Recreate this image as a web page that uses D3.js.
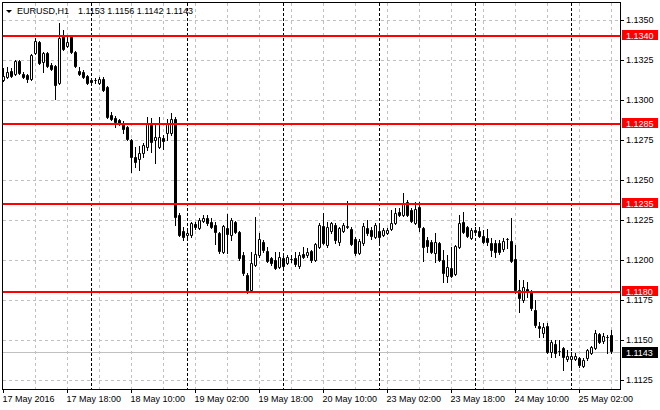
<!DOCTYPE html>
<html><head><meta charset="utf-8">
<script src="https://cdn.jsdelivr.net/npm/d3@7"></script>
<style>
html,body{margin:0;padding:0;background:#fff;}
svg{display:block;font-family:"Liberation Sans",Arial,sans-serif;}
</style></head><body>
<svg id="c" width="660" height="410"></svg>
<script>
const symbol = "EURUSD,H1";
const opens = [1.13127,1.13146,1.13183,1.13165,1.13246,1.13165,1.13158,1.13133,1.13296,1.13365,
1.13240,1.13296,1.13221,1.13215,1.13108,1.13402,1.13340,1.13396,1.13302,1.13183,
1.13177,1.13152,1.13127,1.13127,1.13108,1.13133,1.13083,1.12908,1.12890,1.12877,
1.12858,1.12833,1.12752,1.12646,1.12633,1.12671,1.12708,1.12846,1.12752,1.12708,
1.12765,1.12796,1.12796,1.12883,1.12283,1.12183,1.12158,1.12158,1.12227,1.12202,
1.12246,1.12265,1.12240,1.12221,1.12171,1.12052,1.12202,1.12158,1.12240,1.12177,
1.12033,1.11908,1.11815,1.11971,1.12033,1.12115,1.12058,1.12015,1.12002,1.11958,
1.12015,1.11983,1.12008,1.12015,1.11965,1.12040,1.12033,1.12058,1.12002,1.12083,
1.12215,1.12096,1.12183,1.12221,1.12115,1.12183,1.12208,1.12196,1.12133,1.12046,
1.12108,1.12202,1.12190,1.12146,1.12183,1.12158,1.12171,1.12196,1.12233,1.12302,
1.12283,1.12365,1.12315,1.12233,1.12333,1.12202,1.12127,1.12115,1.12046,1.12108,
1.12002,1.11902,1.11952,1.11915,1.12083,1.12240,1.12208,1.12140,1.12190,1.12183,
1.12152,1.12140,1.12108,1.12108,1.12108,1.12071,1.12133,1.12121,1.12008,1.11815,
1.11752,1.11821,1.11802,1.11690,1.11590,1.11546,1.11590,1.11427,1.11477,1.11433,
1.11452,1.11383,1.11383,1.11383,1.11390,1.11340,1.11390,1.11421,1.11452,1.11540,
1.11496,1.11521,1.1153];
const highs = [1.13202,1.13208,1.13202,1.13252,1.13252,1.13177,1.13165,1.13290,1.13390,1.13371,
1.13302,1.13302,1.13233,1.13221,1.13484,1.13440,1.13396,1.13402,1.13308,1.13208,
1.13190,1.13158,1.13133,1.13140,1.13146,1.13146,1.13090,1.12927,1.12902,1.12883,
1.12871,1.12840,1.12758,1.12708,1.12715,1.12733,1.12896,1.12890,1.12846,1.12896,
1.12783,1.12883,1.12921,1.12896,1.12296,1.12208,1.12196,1.12240,1.12240,1.12265,
1.12283,1.12283,1.12265,1.12240,1.12177,1.12221,1.12290,1.12265,1.12246,1.12183,
1.12052,1.11921,1.12052,1.12271,1.12171,1.12127,1.12083,1.12021,1.12052,1.12052,
1.12033,1.12033,1.12033,1.12052,1.12052,1.12083,1.12077,1.12065,1.12108,1.12233,
1.12296,1.12240,1.12240,1.12233,1.12208,1.12233,1.12371,1.12208,1.12146,1.12133,
1.12233,1.12252,1.12208,1.12233,1.12233,1.12202,1.12202,1.12315,1.12327,1.12327,
1.12421,1.12377,1.12327,1.12365,1.12365,1.12208,1.12146,1.12127,1.12171,1.12115,
1.12065,1.12033,1.12083,1.12096,1.12283,1.12302,1.12215,1.12202,1.12208,1.12208,
1.12190,1.12196,1.12140,1.12127,1.12127,1.12140,1.12140,1.12265,1.12096,1.11877,
1.11877,1.11865,1.11815,1.11752,1.11615,1.11608,1.11608,1.11502,1.11502,1.11502,
1.11458,1.11440,1.11427,1.11421,1.11396,1.11390,1.11446,1.11465,1.11565,1.11546,
1.11546,1.11533,1.1156];
const lows = [1.13121,1.13140,1.13146,1.13158,1.13165,1.13140,1.13115,1.13127,1.13290,1.13227,
1.13177,1.13208,1.13190,1.13008,1.13102,1.13315,1.13333,1.13296,1.13208,1.13158,
1.13140,1.13102,1.13108,1.13108,1.13102,1.13058,1.12890,1.12877,1.12833,1.12846,
1.12796,1.12752,1.12552,1.12583,1.12565,1.12646,1.12690,1.12677,1.12608,1.12702,
1.12696,1.12752,1.12783,1.12221,1.12152,1.12127,1.12146,1.12146,1.12196,1.12196,
1.12240,1.12221,1.12202,1.12102,1.12046,1.12046,1.12046,1.12127,1.12171,1.12002,
1.11908,1.11796,1.11802,1.11965,1.12021,1.12052,1.11990,1.11971,1.11946,1.11952,
1.11958,1.11977,1.11990,1.11965,1.11952,1.12015,1.12021,1.11990,1.11996,1.12077,
1.12102,1.12083,1.12171,1.12108,1.12096,1.12177,1.12202,1.12096,1.12033,1.12040,
1.12096,1.12158,1.12133,1.12140,1.12115,1.12152,1.12165,1.12190,1.12227,1.12277,
1.12277,1.12277,1.12240,1.12227,1.12183,1.11996,1.12052,1.12046,1.11990,1.11996,
1.11865,1.11865,1.11896,1.11908,1.12077,1.12171,1.12146,1.12133,1.12171,1.12146,
1.12108,1.12096,1.12027,1.12021,1.12040,1.12058,1.12077,1.11990,1.11796,1.11677,
1.11740,1.11771,1.11690,1.11583,1.11521,1.11521,1.11421,1.11396,1.11396,1.11408,
1.11315,1.11371,1.11315,1.11377,1.11333,1.11333,1.11377,1.11415,1.11446,1.11483,
1.11483,1.11421,1.1142];
const closes = [1.13152,1.13177,1.13152,1.13246,1.13171,1.13146,1.13133,1.13283,1.13371,1.13233,
1.13296,1.13215,1.13196,1.13096,1.13390,1.13321,1.13365,1.13302,1.13215,1.13165,
1.13146,1.13108,1.13115,1.13125,1.13133,1.13065,1.12896,1.12883,1.12865,1.12852,
1.12821,1.12758,1.12646,1.12615,1.12671,1.12721,1.12858,1.12740,1.12771,1.12771,
1.12746,1.12858,1.12883,1.12271,1.12158,1.12146,1.12171,1.12233,1.12208,1.12252,
1.12265,1.12233,1.12208,1.12177,1.12058,1.12215,1.12165,1.12252,1.12177,1.12015,
1.11921,1.11815,1.11983,1.12040,1.12133,1.12065,1.11996,1.11983,1.11952,1.12021,
1.11965,1.12021,1.12005,1.11977,1.12033,1.12021,1.12052,1.12002,1.12102,1.12221,
1.12108,1.12208,1.12233,1.12127,1.12202,1.12221,1.12215,1.12102,1.12046,1.12121,
1.12215,1.12171,1.12152,1.12221,1.12146,1.12190,1.12190,1.12233,1.12296,1.12283,
1.12358,1.12283,1.12246,1.12321,1.12208,1.12083,1.12090,1.12052,1.12115,1.12002,
1.11921,1.11958,1.11902,1.12090,1.12233,1.12177,1.12152,1.12190,1.12177,1.12152,
1.12115,1.12115,1.12065,1.12052,1.12052,1.12121,1.12130,1.11996,1.11815,1.11765,
1.11833,1.11802,1.11702,1.11596,1.11577,1.11583,1.11427,1.11490,1.11421,1.11430,
1.11396,1.11402,1.11402,1.11402,1.11346,1.11377,1.11440,1.11458,1.11546,1.11490,
1.11527,1.11518,1.1143];
const xTickIdx = [0,16,32,48,64,80,96,112,128,144];
const xTickLabels = ["17 May 2016","17 May 18:00","18 May 10:00","19 May 02:00","19 May 18:00",
  "20 May 10:00","23 May 02:00","23 May 18:00","24 May 10:00","25 May 02:00"];
const yTicks = [1.1350,1.1325,1.1300,1.1275,1.1250,1.1225,1.1200,1.1175,1.1150,1.1125];
const levels = [1.1340,1.1285,1.1235,1.1180];
const daySeps = [22,46,70,94,118,142];
const gridIdx = d3.range(8,153,8);

const n = closes.length;
const last = n-1;
const lastPrice = closes[last];
const svg = d3.select("#c");
const fmt = d3.format(".4f");

const x = d3.scaleLinear().domain([0,152]).range([3,611]);
const y = d3.scaleLinear().domain([1.1350,1.1125]).range([20,380]);

svg.append("defs").append("clipPath").attr("id","plot")
  .append("rect").attr("x",3).attr("y",3).attr("width",617).attr("height",386);

const plot = svg.append("g").attr("clip-path","url(#plot)");

// grid
plot.selectAll("line.hg").data(yTicks).join("line")
  .attr("x1",3).attr("x2",620).attr("y1",d=>Math.round(y(d))+0.5).attr("y2",d=>Math.round(y(d))+0.5)
  .attr("stroke","#c0c0c0").attr("stroke-dasharray","3,3");
plot.selectAll("line.vg").data(gridIdx).join("line")
  .attr("y1",3).attr("y2",389).attr("x1",d=>x(d)+0.5).attr("x2",d=>x(d)+0.5)
  .attr("stroke","#c0c0c0").attr("stroke-dasharray","3,3");
// day separators
plot.selectAll("line.ds").data(daySeps).join("line")
  .attr("y1",3).attr("y2",389).attr("x1",d=>x(d)+0.5).attr("x2",d=>x(d)+0.5)
  .attr("stroke","#000").attr("stroke-dasharray","3,2");
// last price line
plot.append("line").attr("x1",3).attr("x2",620)
  .attr("y1",Math.ceil(y(lastPrice))+0.5).attr("y2",Math.ceil(y(lastPrice))+0.5)
  .attr("stroke","#c0c0c0");

// candles
const idx = d3.range(n);
plot.selectAll("line.wick").data(idx).join("line")
  .attr("x1",i=>x(i)+0.5).attr("x2",i=>x(i)+0.5)
  .attr("y1",i=>Math.round(y(highs[i]))).attr("y2",i=>Math.round(y(lows[i]))+1)
  .attr("stroke","#000");
plot.selectAll("path.body").data(idx).join("path")
  .attr("d",i=>{
    const t = Math.round(y(Math.max(opens[i],closes[i])))+0.5;
    const b = Math.round(y(Math.min(opens[i],closes[i])))+0.5;
    const l = x(i)-0.5, r = x(i)+1.5;
    return `M${l},${t}H${r}V${b}H${l}Z`;
  })
  .attr("fill",i=>closes[i]>opens[i]?"#fff":"#000")
  .attr("stroke","#000");

// red levels
plot.selectAll("line.lv").data(levels).join("line")
  .attr("x1",3).attr("x2",620).attr("y1",d=>y(d)).attr("y2",d=>y(d))
  .attr("stroke","#ff0000").attr("stroke-width",2);

// frame
svg.append("rect").attr("x",2.5).attr("y",2.5).attr("width",618).attr("height",387)
  .attr("fill","none").attr("stroke","#000");

// axes
const yAxis = svg.append("g").attr("transform","translate(620,0)")
  .call(d3.axisRight(y).tickValues(yTicks).tickSize(4).tickPadding(2).tickFormat(fmt));
yAxis.select(".domain").remove();
yAxis.selectAll("text").attr("font-size",9).attr("font-family",'"Liberation Sans",Arial,sans-serif').attr("fill","#000");

const xAxis = svg.append("g").attr("transform","translate(0,389)")
  .call(d3.axisBottom(x).tickValues(xTickIdx).tickSize(4).tickFormat((d,i)=>xTickLabels[i]));
xAxis.select(".domain").remove();
xAxis.selectAll("text").attr("font-size",9).attr("font-family",'"Liberation Sans",Arial,sans-serif')
  .attr("text-anchor","start").attr("x",-1).attr("y",13).attr("dy",null).attr("fill","#000");

// level labels
const lab = svg.append("g");
levels.forEach(p=>{
  const cy = y(p);
  lab.append("rect").attr("x",622).attr("y",cy-6).attr("width",36).attr("height",10).attr("fill","#ff0000");
  lab.append("text").attr("x",626).attr("y",cy+2.5).attr("font-size",9).attr("fill","#fff").text(fmt(p));
});
const ly = Math.ceil(y(lastPrice))+0.5;
lab.append("rect").attr("x",622).attr("y",ly-5.5).attr("width",36).attr("height",11).attr("fill","#000");
lab.append("text").attr("x",626).attr("y",ly+3.5).attr("font-size",9).attr("fill","#fff").text(fmt(lastPrice));

// header
svg.append("path").attr("d","M6,10L12,10L9,13Z").attr("fill","#000");
svg.append("text").attr("x",17).attr("y",14).attr("font-size",9).attr("fill","#000").text(symbol);
svg.append("text").attr("x",78).attr("y",14).attr("font-size",9).attr("fill","#000")
  .text([opens[last],highs[last],lows[last],closes[last]].map(fmt).join(" "));
</script>
</body></html>
